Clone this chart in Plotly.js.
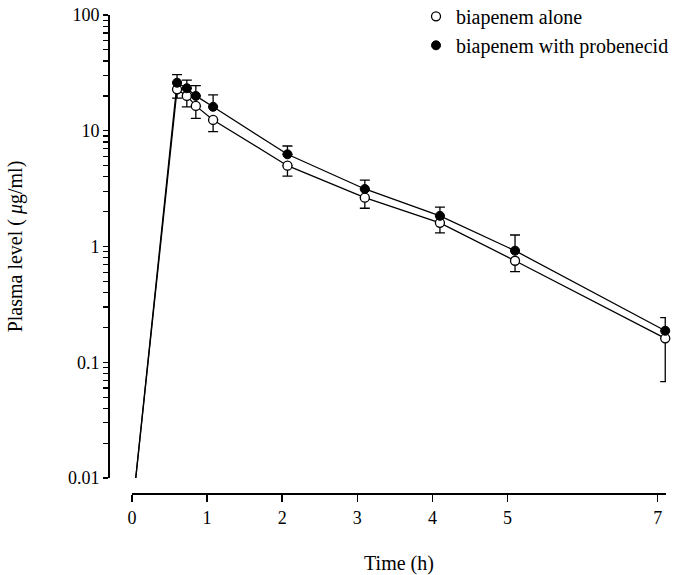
<!DOCTYPE html>
<html>
<head>
<meta charset="utf-8">
<script src="https://cdn.plot.ly/plotly-3.0.1.min.js"></script>
<style>html,body{margin:0;padding:0;background:#fff;}#chart{width:675px;height:575px;}</style>
</head>
<body>
<div id="chart"></div>
<script>
// Sampling times (h)
const timeH = [0.6, 0.73, 0.85, 1.08, 2.07, 3.1, 4.1, 5.1, 7.1];
// Biapenem alone: mean and lower bound of SD bar (µg/ml)
const aloneMean  = [22.8, 20.0, 16.4, 12.4, 4.99, 2.64, 1.60, 0.753, 0.161];
const aloneLower = [19.1, 16.1, 12.8, 9.82, 4.06, 2.14, 1.31, 0.606, 0.068];
// Biapenem with probenecid: mean and upper bound of SD bar (µg/ml)
const probMean  = [26.0, 23.3, 20.0, 16.1, 6.26, 3.14, 1.84, 0.92, 0.187];
const probUpper = [30.5, 27.4, 24.5, 20.4, 7.38, 3.75, 2.19, 1.257, 0.243];
// Start of infusion line
const startTime = 0.05;
const startLevel = 0.01;
// Axis ticks
const xTicks = [0, 1, 2, 3, 4, 5, 7];
const yMajor = [0.01, 0.1, 1, 10, 100];
const yMajorText = ['0.01', '0.1', '1', '10', '100'];

const yTickVals = [];
const yTickText = [];
yMajor.forEach((d, i) => {
  yTickVals.push(d); yTickText.push(yMajorText[i]);
  if (i < yMajor.length - 1) {
    for (let k = 2; k <= 9; k++) { yTickVals.push(d * k); yTickText.push(''); }
  }
});

const serif = 'Liberation Serif, Times New Roman, serif';

const traces = [
  {
    x: [startTime].concat(timeH), y: [startLevel].concat(probMean),
    mode: 'lines', line: {color: '#000', width: 1.3}, showlegend: false, hoverinfo: 'skip',
    cliponaxis: false
  },
  {
    x: [startTime].concat(timeH), y: [startLevel].concat(aloneMean),
    mode: 'lines', line: {color: '#000', width: 1.3}, showlegend: false, hoverinfo: 'skip',
    cliponaxis: false
  },
  {
    x: timeH, y: aloneMean, name: 'biapenem alone', mode: 'markers', cliponaxis: false,
    marker: {symbol: 'circle', size: 9, color: '#fff', line: {color: '#000', width: 1.3}},
    error_y: {type: 'data', symmetric: false,
      array: aloneMean.map(() => 0),
      arrayminus: aloneMean.map((m, i) => m - aloneLower[i]),
      color: '#000', thickness: 1.3, width: 5}
  },
  {
    x: timeH, y: probMean, name: 'biapenem with probenecid', mode: 'markers', cliponaxis: false,
    marker: {symbol: 'circle', size: 9, color: '#000', line: {color: '#000', width: 1}},
    error_y: {type: 'data', symmetric: false,
      array: probMean.map((m, i) => probUpper[i] - m),
      arrayminus: probMean.map(() => 0),
      color: '#000', thickness: 1.3, width: 5}
  }
];

const layout = {
  width: 675, height: 575,
  margin: {l: 108, r: 9, t: 15, b: 81, autoexpand: false},
  paper_bgcolor: '#fff', plot_bgcolor: '#fff',
  font: {family: serif, color: '#000', size: 18},
  showlegend: true,
  legend: {x: 0.552, xanchor: 'left', y: 1.038, yanchor: 'top',
    font: {family: serif, size: 20, color: '#000'}, bgcolor: 'rgba(0,0,0,0)',
    itemwidth: 30, tracegroupgap: 0},
  xaxis: {
    type: 'linear', range: [0, 7.11], domain: [0.043, 1], anchor: 'free', position: 0,
    tickvals: xTicks, ticktext: xTicks.map(String),
    showline: true, linecolor: '#000', linewidth: 2,
    ticks: 'outside', ticklen: 7, tickwidth: 1.5, tickcolor: '#000',
    showgrid: false, zeroline: false,
    tickfont: {family: serif, size: 18, color: '#000'},
    title: {text: 'Time (h)', font: {family: serif, size: 20, color: '#000'}, standoff: 28}
  },
  yaxis: {
    type: 'log', range: [-2, 2], domain: [0.0334, 1], anchor: 'free', position: 0,
    tickvals: yTickVals, ticktext: yTickText,
    showline: true, linecolor: '#000', linewidth: 1.6,
    ticks: 'outside', ticklen: 5, tickwidth: 1.2, tickcolor: '#000',
    showgrid: false, zeroline: false,
    tickfont: {family: serif, size: 18, color: '#000'},
    title: {text: 'Plasma level ( <i>μ</i>g/ml)', font: {family: serif, size: 20, color: '#000'}, standoff: 38}
  }
};

Plotly.newPlot('chart', traces, layout, {displayModeBar: false, staticPlot: true});
</script>
</body>
</html>
